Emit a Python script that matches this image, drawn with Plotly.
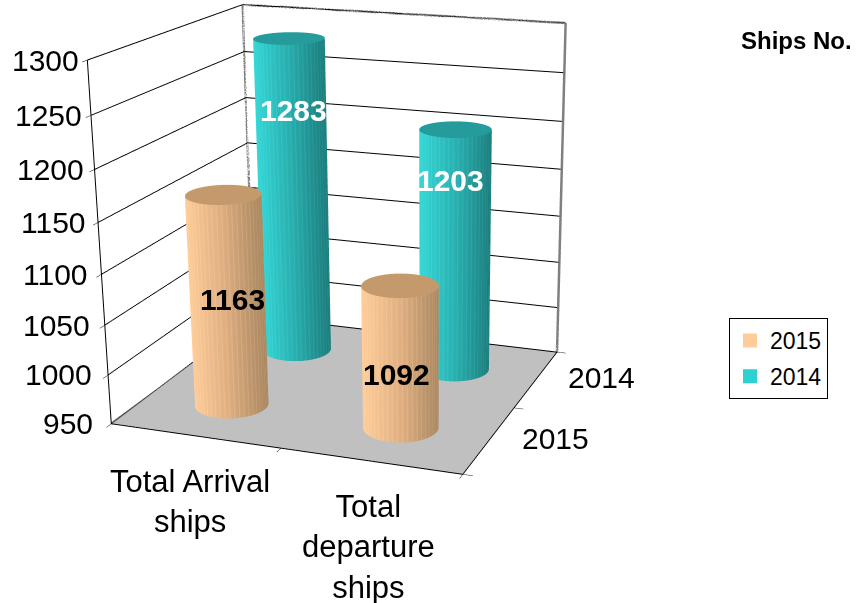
import numpy as np
import plotly.graph_objects as go

categories = ["Total Arrival<br>ships", "Total<br>departure<br>ships"]
series_names = ["2015", "2014"]
values_2015 = [1163, 1092]
values_2014 = [1283, 1203]
z_ticks = [950, 1000, 1050, 1100, 1150, 1200, 1250, 1300]
Z0, Z1 = 950, 1300

# Label offsets from each cylinder's top (pixels), series by series
label_dx = {"2015": [9, -4], "2014": [5, -5]}
label_dy = {"2015": [-105, -89], "2014": [-72, -51]}
category_dx = [-5, -2]

# Camera solved so that the scene frame falls on the reference's frame.
# Plotly's perspective has a fixed 45 degree field, so the long lens is reached
# with a large canvas that is centred on the window.
EYE = np.array([2.129, -5.281, 1.651])
CENTER = np.array([0.314, 0.0, -0.268])
ASPECT = dict(x=1.259, y=1.164, z=1.25)
CANVAS = 1407
LEFT = -275
TOP = -402
RADIUS = 0.128  # scene units

FONT = "Liberation Sans"
legend_color = {"2015": "#FFCC99", "2014": "#2FD0D0"}
side_scale = {
    "2015": [[0, "#FFCE9C"], [0.5, "#E0B083"], [1, "#A98862"]],
    "2014": [[0, "#38D8D8"], [0.5, "#2BAFAF"], [1, "#1E7C7C"]],
}
top_color = {"2015": "#C49A6C", "2014": "#259B9B"}
FLAT = dict(ambient=1, diffuse=0, specular=0, fresnel=0, roughness=1)

view = CENTER - EYE
right = np.cross(view, [0, 0, 1])
phi = np.arctan2(right[1], right[0])


def paper(sx, sy):
    return (sx - LEFT) / CANVAS, 1 - (sy - TOP) / CANVAS


def cylinder(cx, cy, v, name):
    n = 241
    t = np.linspace(0, 2 * np.pi, n)
    rx = RADIUS * 2 / ASPECT["x"]
    ry = RADIUS * 2 / ASPECT["y"]
    X = cx + rx * np.outer(np.cos(t), [1, 1])
    Y = cy + ry * np.outer(np.sin(t), [1, 1])
    Z = np.outer(np.ones(n), [Z0, v])
    shade = (1 + np.cos(t - phi)) / 2
    stripe = np.where(np.arange(n) % 5 == 0, -0.16, 0.0)
    colour = np.clip(shade + stripe, 0, 1)[:, None] * np.ones((n, 2))
    body = go.Surface(x=X, y=Y, z=Z, surfacecolor=colour, cmin=0, cmax=1,
                      colorscale=side_scale[name], showscale=False, lighting=FLAT)
    r = np.array([0.0, 1.0])
    Xc = cx + rx * np.outer(np.cos(t), r)
    Yc = cy + ry * np.outer(np.sin(t), r)
    cap = go.Surface(x=Xc, y=Yc, z=np.full_like(Xc, v, dtype=float), surfacecolor=np.zeros_like(Xc),
                     cmin=0, cmax=1, colorscale=[[0, top_color[name]], [1, top_color[name]]],
                     showscale=False, lighting=FLAT)
    return [body, cap]


fig = go.Figure()
fig.add_trace(go.Scatter3d(
    x=[-0.5, -0.5, None, -0.5, 1.5, None, -0.5, -0.5, None, 1.5, 1.5, None, -0.5, -0.5, None, -0.5, 1.5],
    y=[-0.5, 1.5, None, 1.5, 1.5, None, 1.5, 1.5, None, 1.5, 1.5, None, -0.5, 1.5, None, 1.5, 1.5],
    z=[Z1, Z1, None, Z1, Z1, None, Z0, Z1, None, Z0, Z1, None, Z0, Z0, None, Z0, Z0],
    mode="lines", line=dict(color="#808080", width=5), showlegend=False, hoverinfo="skip"))

ann = []
for j, (name, vals) in enumerate(zip(series_names, [values_2015, values_2014])):
    for i, v in enumerate(vals):
        for tr in cylinder(i, j, v, name):
            fig.add_trace(tr)
        ann.append(dict(x=i, y=j, z=v, text=f"<b>{v}</b>", showarrow=False,
                        xshift=label_dx[name][i], yshift=label_dy[name][i],
                        font=dict(size=30, color="white" if name == "2014" else "black", family=FONT)))
    fig.add_trace(go.Scatter3d(x=[None], y=[None], z=[None], mode="markers", name=name, legendgroup=name,
                               marker=dict(symbol="square", size=15, color=legend_color[name],
                                           line=dict(color=legend_color[name], width=2))))

for t in z_ticks:
    ann.append(dict(x=-0.5, y=-0.5, z=t, text=str(t), showarrow=False, xanchor="right",
                    xshift=-16 + 10 * (t - Z0) / (Z1 - Z0),
                    font=dict(size=30, color="black", family=FONT)))
for i, c in enumerate(categories):
    ann.append(dict(x=i, y=-0.5, z=Z0, text=c, showarrow=False, yanchor="top", yshift=-26,
                    xshift=category_dx[i], font=dict(size=31, color="black", family=FONT)))
for j, n in enumerate(series_names):
    ann.append(dict(x=1.5, y=j, z=Z0, text=n, showarrow=False, xanchor="left", xshift=30, yshift=1,
                    font=dict(size=30, color="black", family=FONT)))

axis_common = dict(showspikes=False, showline=True, linecolor="black", linewidth=2,
                   gridcolor="black", gridwidth=2, zeroline=False, title="",
                   ticks="outside", tickcolor="black", ticklen=8, showticklabels=False)
lx, ly = paper(729, 318)
tx, ty = paper(796, 41)
fig.update_layout(
    width=CANVAS, height=CANVAS, paper_bgcolor="white", margin=dict(l=0, r=0, t=0, b=0),
    font=dict(family=FONT, color="black"),
    showlegend=True,
    legend=dict(x=lx, y=ly, xanchor="left", yanchor="top", bordercolor="black", borderwidth=1,
                bgcolor="white", font=dict(size=23, family=FONT), traceorder="grouped",
                tracegroupgap=3, itemsizing="constant"),
    annotations=[dict(text="<b>Ships No.</b>", xref="paper", yref="paper", x=tx, y=ty,
                      xanchor="center", yanchor="middle",
                      showarrow=False, font=dict(size=24, family=FONT))],
    scene=dict(
        domain=dict(x=[0, 1], y=[0, 1]),
        aspectmode="manual", aspectratio=ASPECT,
        camera=dict(eye=dict(x=EYE[0], y=EYE[1], z=EYE[2]), center=dict(x=CENTER[0], y=CENTER[1], z=CENTER[2]),
                    up=dict(x=0, y=0, z=1), projection=dict(type="perspective")),
        xaxis=dict(range=[-0.5, 1.5], tickvals=[-0.5, 0.5, 1.5], showgrid=False, showbackground=False, **axis_common),
        yaxis=dict(range=[-0.5, 1.5], tickvals=[-0.5, 0.5, 1.5], showgrid=False, showbackground=False, **axis_common),
        zaxis=dict(range=[Z0, Z1], tickvals=z_ticks, showbackground=True, backgroundcolor="#C0C0C0", **axis_common),
        annotations=ann,
    ),
)
js = (f"var g=document.getElementById('{{plot_id}}');g.style.position='absolute';"
      f"g.style.left='{LEFT}px';g.style.top='{TOP}px';"
      "document.documentElement.style.overflow='hidden';document.body.style.overflow='hidden';"
      "document.body.style.margin='0';")
fig.write_html("out.html", post_script=js)
